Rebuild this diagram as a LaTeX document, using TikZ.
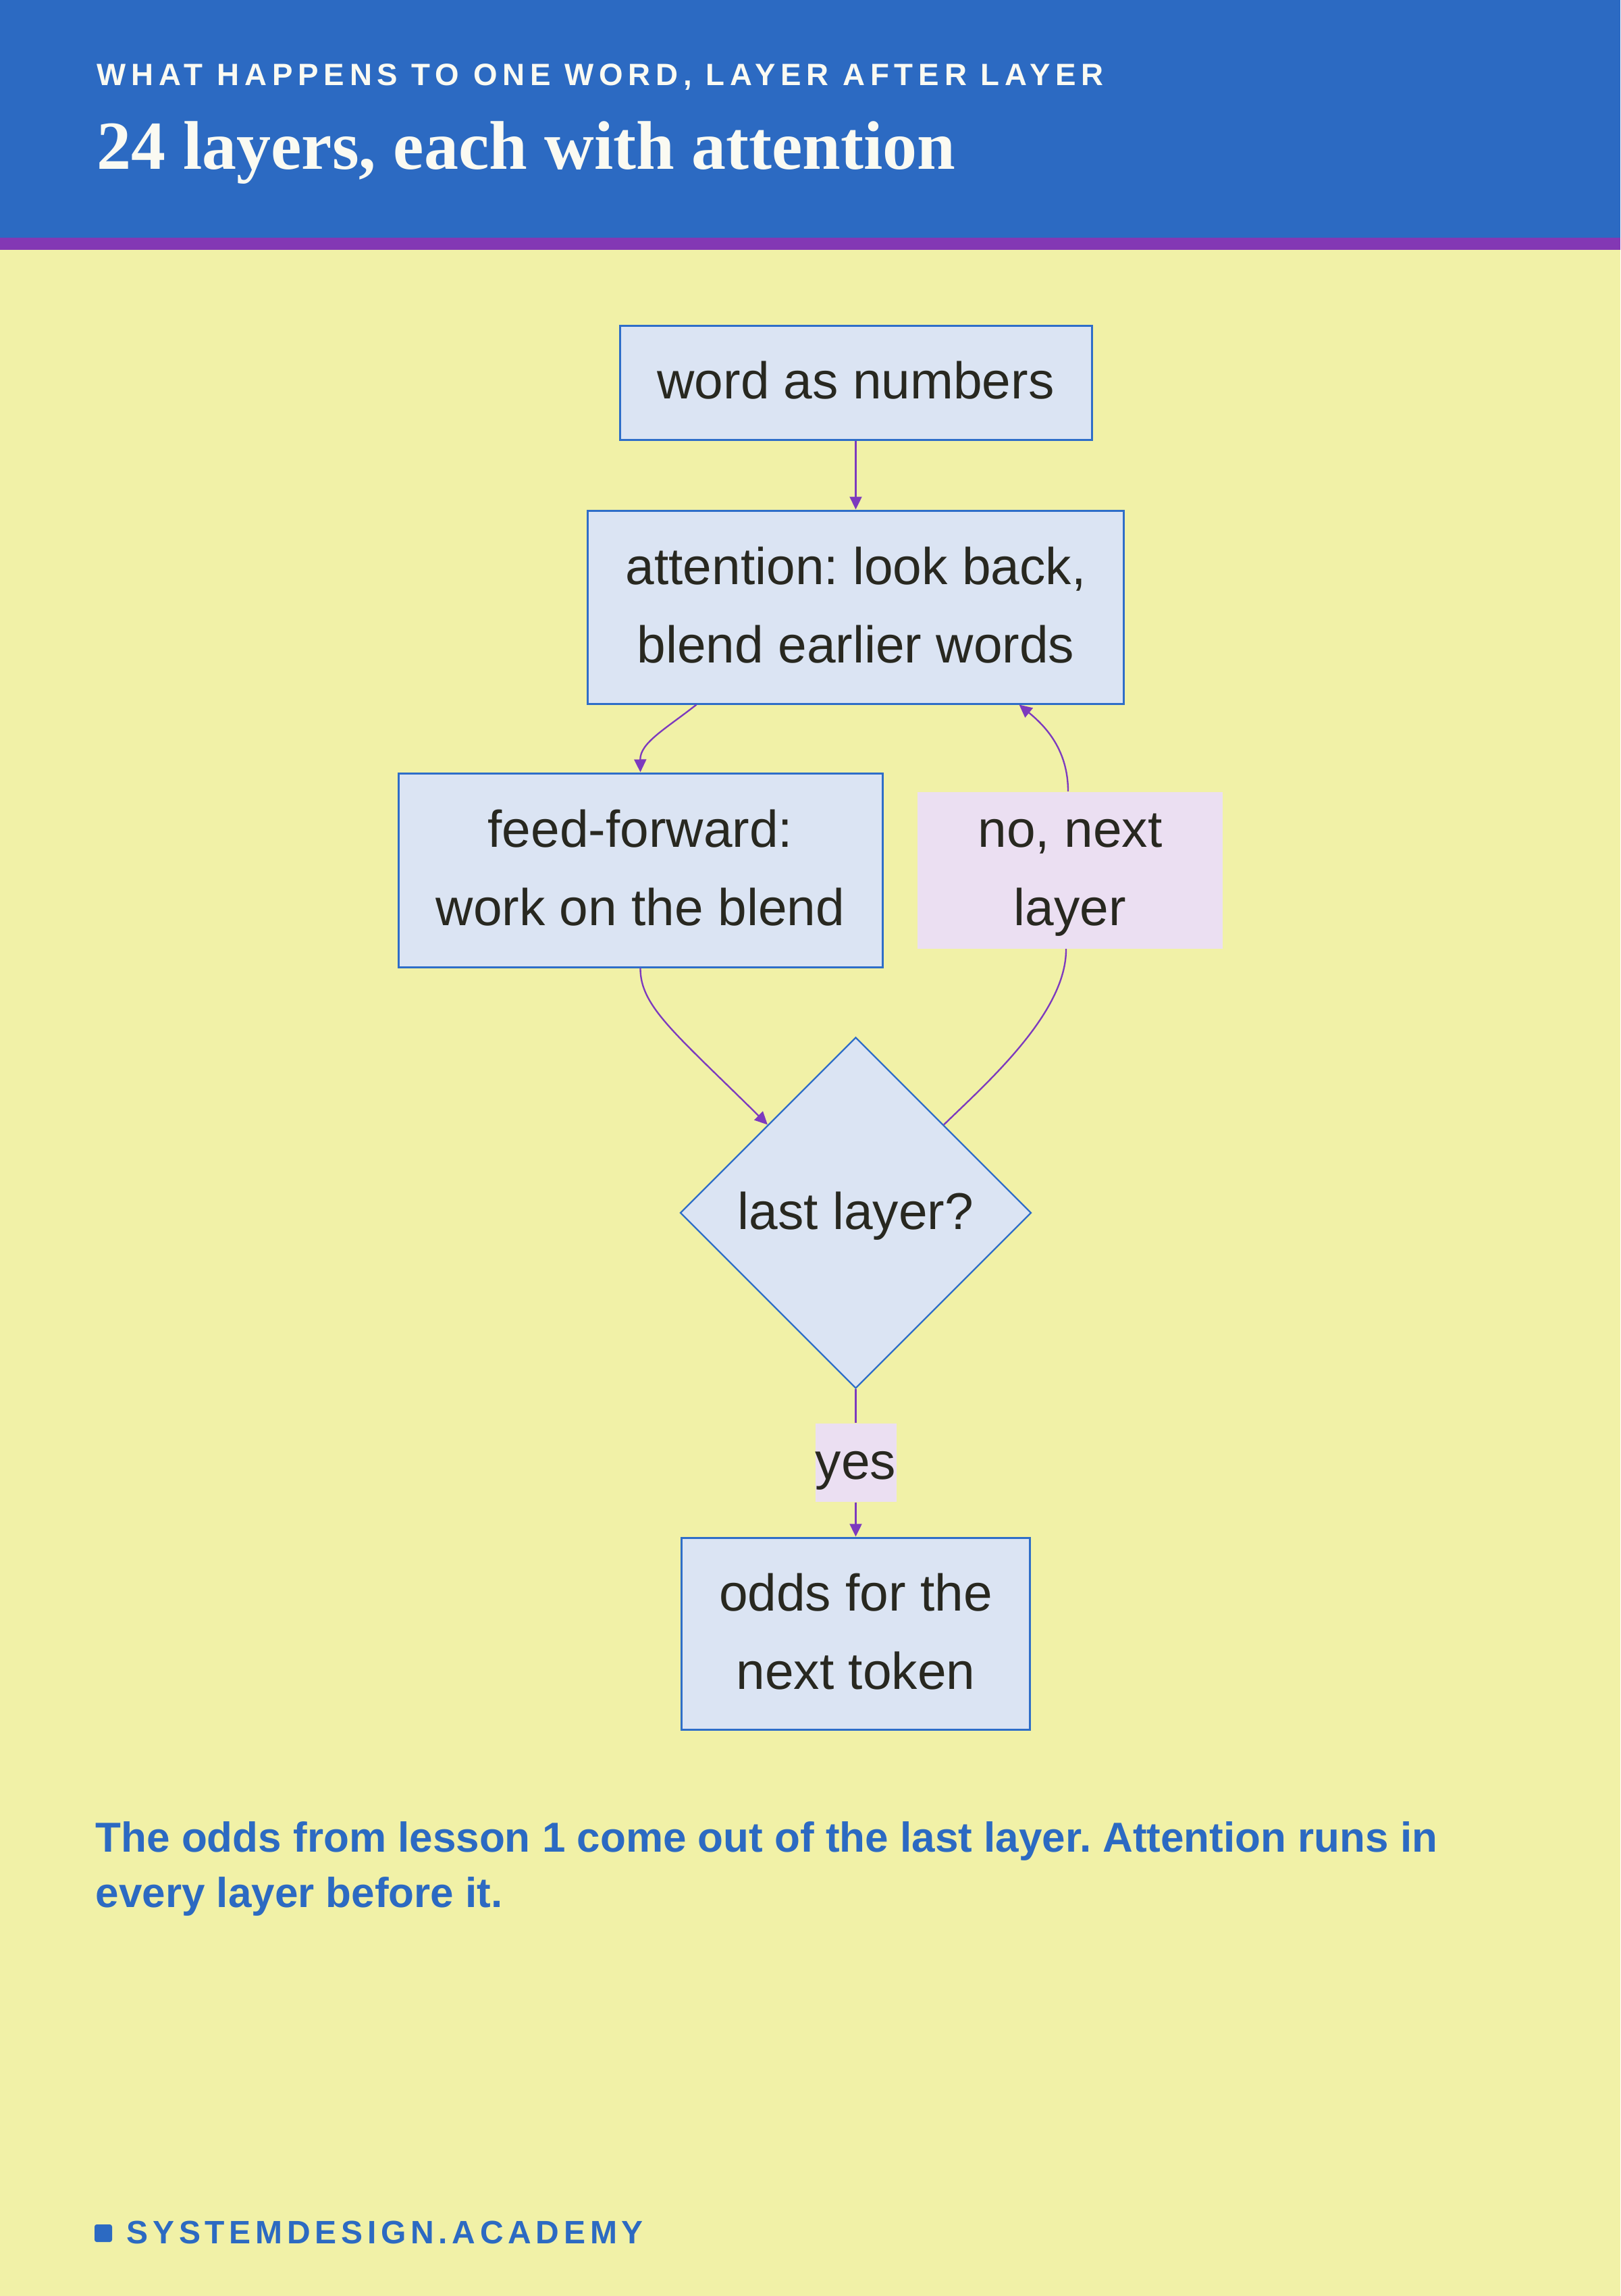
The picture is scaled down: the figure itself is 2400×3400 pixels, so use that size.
\documentclass[tikz,border=0pt]{standalone}
\usepackage{fontspec}
\setmainfont{Liberation Sans}
\newfontfamily\titlefont{Liberation Serif}
\newfontfamily\kickerfont{Liberation Sans}[LetterSpace=17.25]
\newfontfamily\brandfont{Liberation Sans}[LetterSpace=14]
\usetikzlibrary{shapes.geometric,arrows.meta,calc}
\definecolor{bgyellow}{RGB}{241,241,167}
\definecolor{headblue}{RGB}{44,106,194}
\definecolor{stripe}{RGB}{131,56,180}
\definecolor{boxfill}{RGB}{219,228,243}
\definecolor{boxline}{RGB}{47,110,200}
\definecolor{labelfill}{RGB}{235,223,242}
\definecolor{edgecol}{RGB}{125,58,190}
\definecolor{ink}{RGB}{40,40,32}
\definecolor{paper}{RGB}{250,250,242}
\newcommand\nstrut{\rule[-10.2pt]{0pt}{34.8pt}}
\newcommand\cstrut{\rule[-6pt]{0pt}{24.6pt}}
\tikzset{
  flowbox/.style={draw=boxline, line width=0.9pt, fill=boxfill, inner sep=0pt,
    align=center, text=ink, font=\fontsize{23}{34.8}\selectfont},
  decision/.style={flowbox, shape=diamond, aspect=1, line width=0.7pt},
  edgelabel/.style={fill=labelfill, inner sep=0pt, align=center, text=ink,
    font=\fontsize{23}{34.8}\selectfont},
  flowedge/.style={draw=edgecol, line width=0.7pt, -{Triangle[length=5.7pt,width=5.4pt]}},
  flowline/.style={draw=edgecol, line width=0.7pt}
}
\begin{document}
\frenchspacing
\begin{tikzpicture}[x=0.3pt,y=-0.3pt]
\useasboundingbox (0,0) rectangle (2400,3400);
% background and header
\fill[bgyellow] (0,0) rectangle (2400,3400);
\fill[headblue] (0,0) rectangle (2400,352);
\fill[stripe] (0,352) rectangle (2400,370);
\node[anchor=base west, inner sep=0pt, text=paper, font=\kickerfont\bfseries\fontsize{13.7}{16}\selectfont] (kicker) at (143,126) {WHAT HAPPENS TO ONE WORD, LAYER AFTER LAYER};
\node[anchor=base west, inner sep=0pt, text=paper, font=\titlefont\bfseries\fontsize{30.6}{36}\selectfont] (title) at (143,250) {24 layers, each with attention};
% flow nodes
\node[flowbox, minimum width=209.7pt, minimum height=50.7pt] (word) at (1267.5,566.5) {\nstrut word as numbers};
\node[flowbox, minimum width=238.2pt, minimum height=85.8pt] (att) at (1267.5,899) {\nstrut attention: look back,\\\nstrut blend earlier words};
\node[flowbox, minimum width=215.1pt, minimum height=86.1pt] (ff) at (948.5,1288.5) {\nstrut feed-forward:\\\nstrut work on the blend};
\node[edgelabel, minimum width=135.6pt, minimum height=69.3pt] (no) at (1585,1288.5) {\nstrut no, next\\\nstrut layer};
\node[decision, minimum width=156pt, minimum height=156pt] (dia) at (1267.5,1796) {\nstrut last layer?};
\node[edgelabel, minimum width=36pt, minimum height=34.2pt] (yes) at (1267.5,2166) {\nstrut yes};
\node[flowbox, minimum width=154.8pt, minimum height=85.2pt] (odds) at (1267.5,2419) {\nstrut odds for the\\\nstrut next token};
% connectors
\draw[flowedge] (word.south) -- (att.north);
\draw[flowedge] ($(att.south)+(-236,0)$) .. controls (985,1080) and (948,1100) .. (ff.north);
\draw[flowedge] (ff.south) .. controls (948,1490) and (1000,1530) .. (dia.north west);
\draw[flowline] (dia.north east) .. controls (1460,1605) and (1580,1500) .. ($(no.south)+(-6,0)$);
\draw[flowedge] ($(no.north)+(-3,0)$) .. controls (1582,1110) and (1548,1075) .. ($(att.south)+(242,0)$);
\draw[flowline] (dia.south) -- (yes.north);
\draw[flowedge] (yes.south) -- (odds.north);
% caption
\node[anchor=north west, inner sep=0pt, align=left, text=headblue,
  font=\bfseries\fontsize{18.6}{24.6}\selectfont] (caption) at (141,2680)
  {\cstrut The odds from lesson 1 come out of the last layer. Attention runs in\\\cstrut every layer before it.};
% footer
\fill[headblue, rounded corners=1pt] (140,3294) rectangle (166,3320);
\node[anchor=base west, inner sep=0pt, text=headblue, font=\brandfont\bfseries\fontsize{14.4}{17}\selectfont] (brand) at (187,3322) {SYSTEMDESIGN.ACADEMY};
\end{tikzpicture}
\end{document}
